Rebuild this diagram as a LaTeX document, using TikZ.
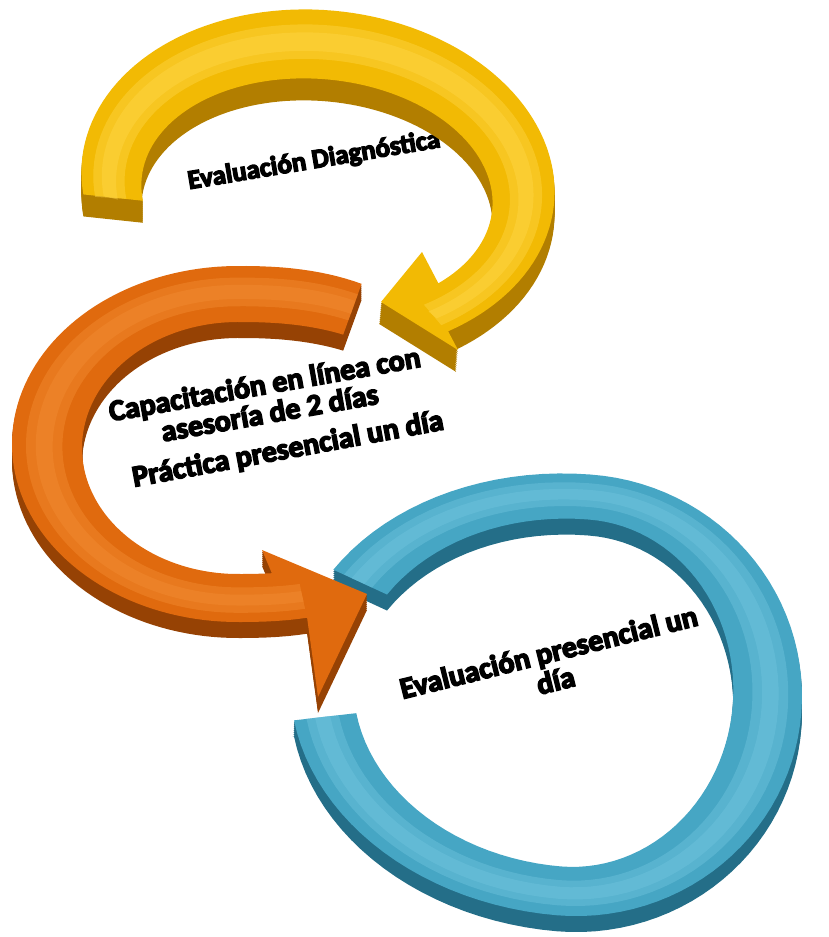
\documentclass[tikz,border=0pt]{standalone}
\usepackage{fontspec}
\setmainfont{Carlito}
\newfontfamily\heavyfont{Carlito Bold}[FakeBold=5]
\definecolor{ytop}{RGB}{242,186,4}
\definecolor{yside}{RGB}{178,126,0}
\definecolor{yhi}{RGB}{255,214,70}
\definecolor{otop}{RGB}{224,106,14}
\definecolor{oside}{RGB}{150,66,4}
\definecolor{ohi}{RGB}{242,140,50}
\definecolor{btop}{RGB}{70,166,196}
\definecolor{bside}{RGB}{36,110,136}
\definecolor{bhi}{RGB}{112,196,222}
\newcommand\ringshape{plot[domain=\rTa:\rTb,samples=100] ({rx(\x,\rAoL,\rAoR)},{ry(\x,\rBo)})
  -- ([yshift=-\s pt]\rN-bo) -- ([yshift=-\s pt]\rN-tip) -- ([yshift=-\s pt]\rN-bi)
  -- plot[domain=\rTd:\rTa,samples=100] ({rx(\x,\rAiL,\rAiR)},{\rDy+ry(\x,\rBi)}) -- cycle}
\newcommand\bandshape[6]{plot[domain=\rTa:\rTb,samples=100] ({rx(\x,#1,#2)},{\rDy*0.3+ry(\x,#3)})
  -- plot[domain=\rTb:\rTa,samples=100] ({rx(\x,#4,#5)},{\rDy*0.7+ry(\x,#6)}) -- cycle}
\newcommand\hiband[4]{%
  \pgfmathsetmacro\hAoL{\rAiL+#1*(\rAoL-\rAiL)}%
  \pgfmathsetmacro\hAoR{\rAiR+#1*(\rAoR-\rAiR)}%
  \pgfmathsetmacro\hBo{\rBi+#1*(\rBo-\rBi)}%
  \pgfmathsetmacro\hAiL{\rAiL+#2*(\rAoL-\rAiL)}%
  \pgfmathsetmacro\hAiR{\rAiR+#2*(\rAoR-\rAiR)}%
  \pgfmathsetmacro\hBi{\rBi+#2*(\rBo-\rBi)}%
  \fill[#3,opacity=#4] \bandshape{\hAoL}{\hAoR}{\hBo}{\hAiL}{\hAiR}{\hBi};}
\newcommand\drawring[3]{%
  \foreach \s in {2,4,...,\rDep}{%
    \begin{scope}[shift={({\rCx},{\rCy+\s})},rotate=\rRot]
      \fill[#2] \ringshape;
    \end{scope}}
  \begin{scope}[shift={({\rCx},{\rCy})},rotate=\rRot]
    \def\s{0}%
    \fill[#1] \ringshape;
    \hiband{0.80}{0.28}{#3}{0.45}
    \hiband{0.66}{0.42}{#3}{0.45}
  \end{scope}}
\begin{document}
\begin{tikzpicture}[x=1pt,y=-1pt,
  declare function={
    rx(\qt,\qa,\qb)=ifthenelse(cos(\qt)<0,-\qa*(abs(cos(\qt))+0.0001)^\rPL,\qb*(abs(cos(\qt))+0.0001)^\rPR);
    ry(\qt,\qc)=ifthenelse(sin(\qt)<0,-1,1)*\qc*(abs(sin(\qt))+0.0001)^(ifthenelse(cos(\qt)<0,\rPL,\rPR));
  },
  txt/.style={font=\heavyfont\fontsize{30}{29}\selectfont, text=black, inner sep=0pt, align=center}]
\useasboundingbox (0,0) rectangle (829,937);
% texts
\node[txt, rotate=9.5, font=\heavyfont\fontsize{27}{28}\selectfont] (t1) at (314,161) {Evaluación Diagnóstica};
\node[txt, rotate=10] (t2) at (267,398) {Capacitación en línea con\\asesoría de 2 días};
\node[txt, rotate=10.5] (t3) at (288,450) {Práctica presencial un día};
\node[txt, rotate=14, font=\heavyfont\fontsize{30}{29}\selectfont] (t4) at (552,666) {Evaluación presencial un\\día};
% blue ring
\def\rN{b}
\def\rCx{575}\def\rCy{695}\def\rRot{-5}
\def\rAoL{285}\def\rAoR{227}\def\rBo{221}
\def\rAiL{222}\def\rAiR{158}\def\rBi{174}\def\rDy{-2}
\def\rPL{1}\def\rPR{1}
\def\rTa{208}\def\rTb{527}\def\rTd{527}\def\rDep{16}
\begin{scope}[shift={({\rCx},{\rCy})},rotate=\rRot]
  \coordinate (b-bo) at ({rx(\rTb,\rAoL,\rAoR)},{ry(\rTb,\rBo)});
  \coordinate (b-tip) at ({rx(\rTb,\rAoL,\rAoR)},{ry(\rTb,\rBo)});
  \coordinate (b-bi) at ({rx(\rTb,\rAoL,\rAoR)},{ry(\rTb,\rBo)});
\end{scope}
\drawring{btop}{bside}{bhi}
% orange ring
\def\rN{o}
\coordinate (o-bi) at (262,550);
\coordinate (o-tip) at (367,594);
\coordinate (o-bo) at (318,697);
\def\rCx{238}\def\rCy{444}\def\rRot{0}
\def\rAoL{226}\def\rAoR{235}\def\rBo{178}
\def\rAiL{156}\def\rAiR{200}\def\rBi{126}\def\rDy{4}
\def\rPL{1}\def\rPR{0.85}
\def\rTa{298}\def\rTb{76.3}\def\rTd{82.9}\def\rDep{16}
\drawring{otop}{oside}{ohi}
% yellow ring
\def\rN{y}
\coordinate (y-bi) at (422,252);
\coordinate (y-tip) at (381,302);
\coordinate (y-bo) at (458,350);
\def\rCx{318}\def\rCy{182}\def\rRot{-5}
\def\rAoL{237}\def\rAoR{237}\def\rBo{172}
\def\rAiL{176}\def\rAiR{176}\def\rBi{115}\def\rDy{12}
\def\rPL{1}\def\rPR{1}
\def\rTa{169}\def\rTb{413}\def\rTd{403}\def\rDep{22}
\drawring{ytop}{yside}{yhi}
\end{tikzpicture}
\end{document}
